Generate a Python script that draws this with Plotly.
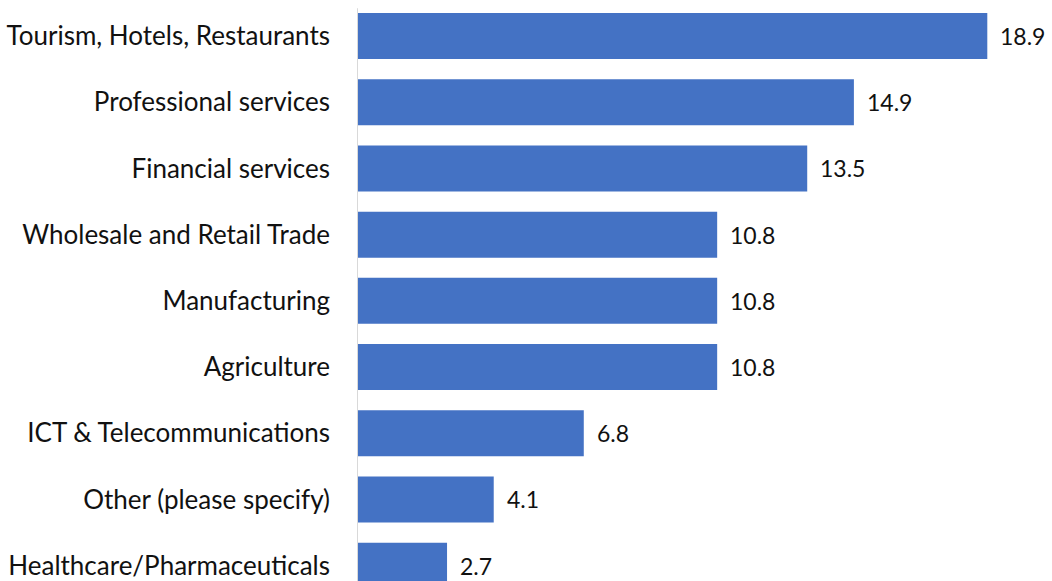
import plotly.graph_objects as go

# Sector shares (%)
sectors = [
    "Tourism, Hotels, Restaurants",
    "Professional services",
    "Financial services",
    "Wholesale and Retail Trade",
    "Manufacturing",
    "Agriculture",
    "ICT & Telecommunications",
    "Other (please specify)",
    "Healthcare/Pharmaceuticals",
]
shares = [18.9, 14.9, 13.5, 10.8, 10.8, 10.8, 6.8, 4.1, 2.7]

BAR_COLOR = "#4472C4"
TEXT_COLOR = "#111111"
FONT = "Lato"

fig = go.Figure(
    go.Bar(
        x=shares,
        y=sectors,
        orientation="h",
        marker=dict(color=BAR_COLOR, line=dict(width=0)),
        hoverinfo="skip",
    )
)

# value labels to the right of each bar
for s, v in zip(sectors, shares):
    fig.add_annotation(
        x=v, y=s, text=f"{v:.1f}", showarrow=False,
        xanchor="left", yanchor="middle", xshift=11,
        font=dict(family=FONT, size=23, color=TEXT_COLOR),
    )

# vertical category axis line
fig.add_shape(
    type="line", xref="x", yref="paper",
    x0=0, x1=0, y0=0, y1=0.991,
    line=dict(color="#d9d9d9", width=2),
)

fig.update_layout(
    width=1052,
    height=581,
    margin=dict(l=357, r=0, t=3, b=0),
    paper_bgcolor="white",
    plot_bgcolor="white",
    bargap=0.305,
    showlegend=False,
    font=dict(family=FONT, size=26, color=TEXT_COLOR),
    xaxis=dict(
        range=[0, 20.84],
        showgrid=False,
        zeroline=False,
        showticklabels=False,
        showline=False,
    ),
    yaxis=dict(
        categoryorder="array",
        categoryarray=sectors,
        range=[8.232, -0.5],
        showgrid=False,
        zeroline=False,
        showline=False,
        ticks="",
        ticklabelstandoff=26,
        tickfont=dict(family=FONT, size=26, color=TEXT_COLOR),
    ),
)

fig.write_html("out.html")
